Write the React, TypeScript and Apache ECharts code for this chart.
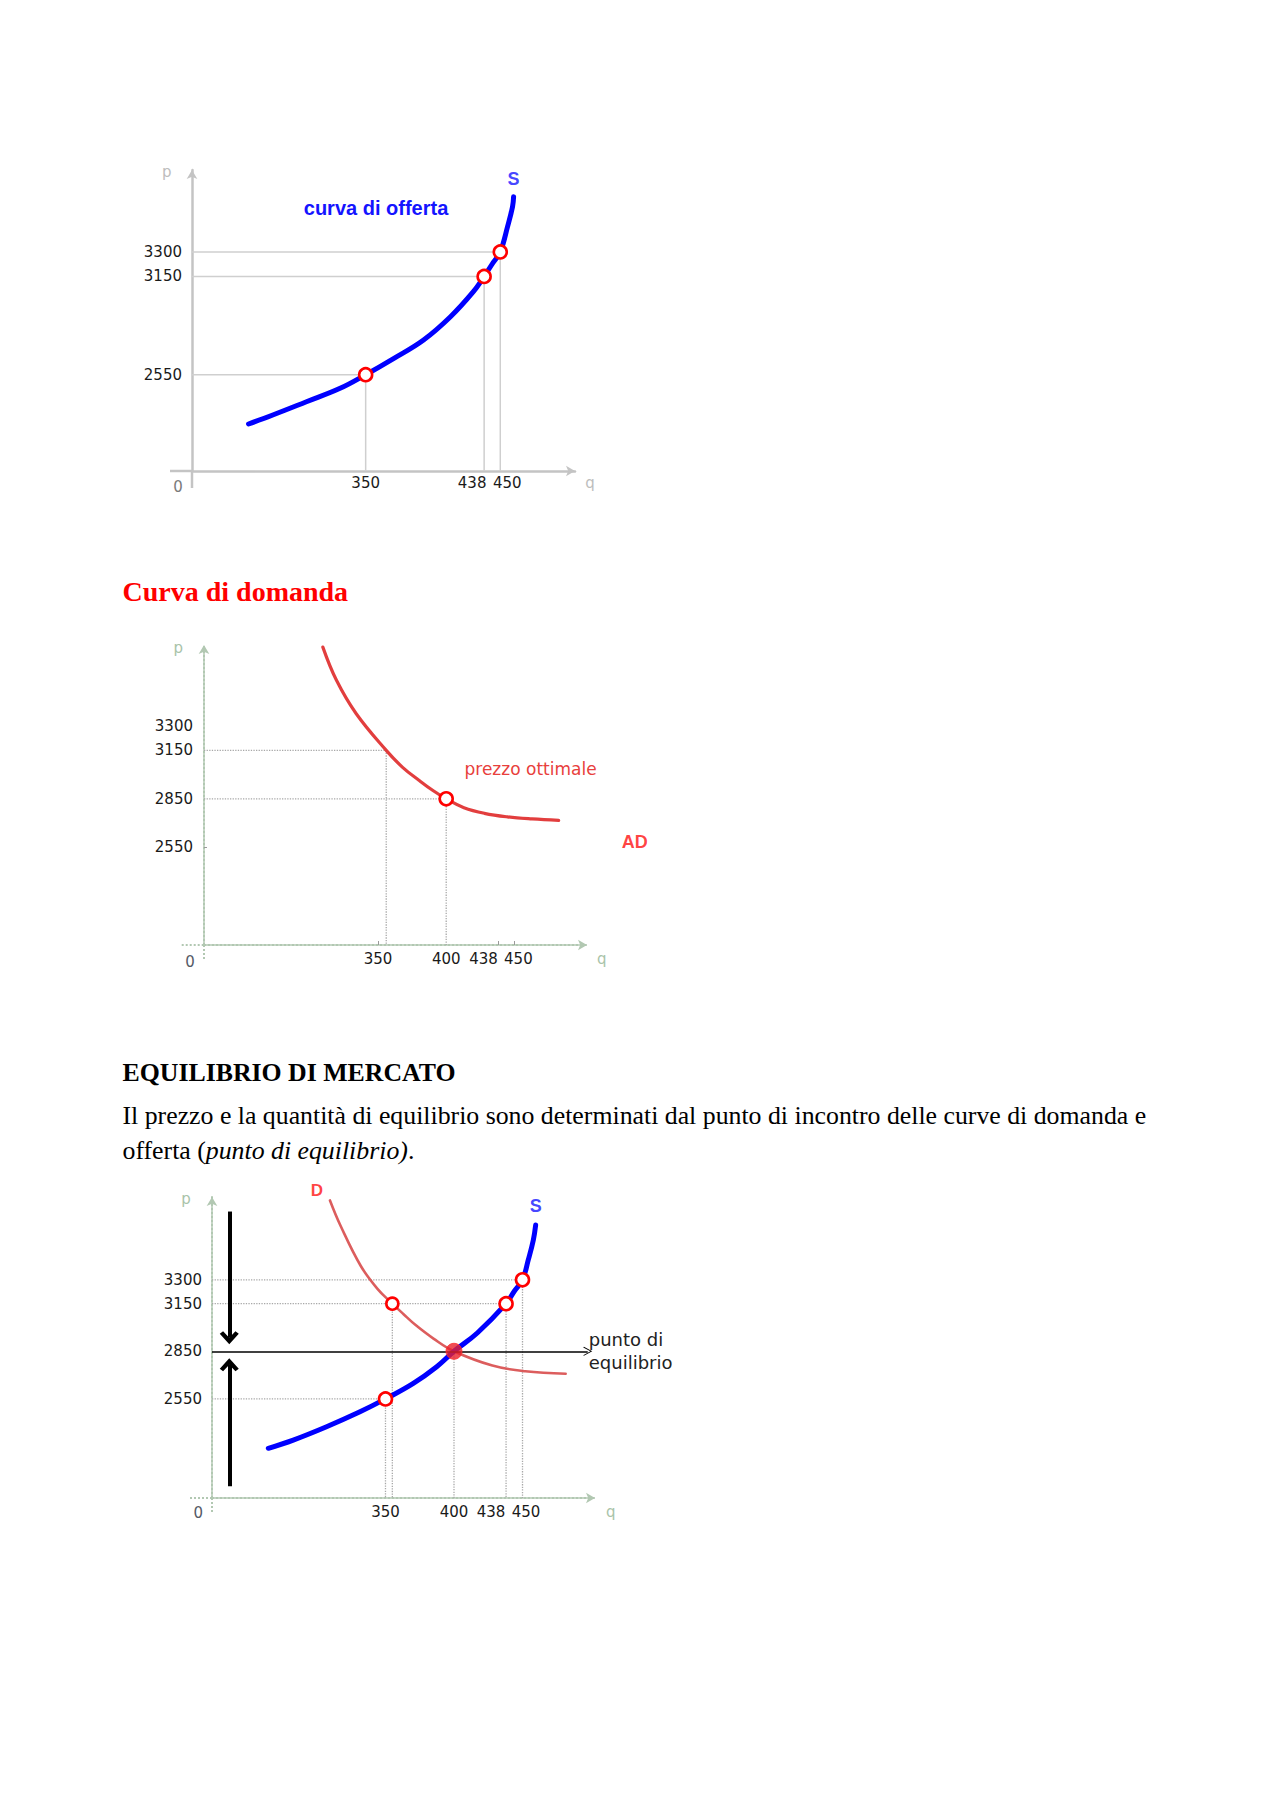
import React, { useEffect, useRef } from "react";
import * as echarts from "echarts";

// ---------------- DATA ----------------
// Grafico 1 – curva di offerta (q, p)
const offerta1Curve = [[263, 2249], [281, 2304], [306, 2385], [331, 2467], [350, 2550], [371, 2650], [393, 2762], [413, 2904], [430, 3057], [438, 3150], [444, 3226], [450, 3300], [455.4, 3454], [459.1, 3576], [459.9, 3637]];
const offerta1Points = [[350, 2550], [438, 3150], [450, 3300]];
const q1Ticks = [350, 438, 450];
const p1Ticks = [2550, 3150, 3300];

// Grafico 2 – curva di domanda
const domanda2Curve = [[309.5, 3790], [319.5, 3584], [334, 3377], [356, 3150], [368, 3045], [380, 2965], [390, 2903], [400, 2850], [413, 2795], [428, 2760], [445, 2738], [463, 2725], [482.5, 2716]];
const domanda2Guides = [[356, 3150], [400, 2850]];
const domanda2Optimum = [[400, 2850]];
const q2Ticks = [350, 400, 438, 450];
const q2SmallTicks = [350, 438, 450];
const p2Ticks = [2550, 2850, 3150, 3300];

// Grafico 3 – equilibrio di mercato
const offerta3Curve = [[264.5, 2239], [282.7, 2291], [307, 2375], [331.4, 2469], [350, 2550], [370.3, 2648], [387.4, 2753], [400, 2850], [417, 2965], [438, 3150], [444, 3228], [450, 3300], [454.2, 3425], [457.9, 3551], [459.6, 3645]];
const domanda3Curve = [[309.5, 3800], [317.3, 3639], [332, 3387], [344, 3245], [355, 3150], [363, 3085], [372, 3015], [385, 2930], [400, 2850], [428, 2760], [452, 2724], [481.5, 2708]];
const offerta3Points = [[350, 2550], [438, 3150], [450, 3300]];
const domanda3Points = [[355, 3150]];
const equilibrio = [[400, 2850]];
const q3Ticks = [350, 400, 438, 450];
const p3Ticks = [2550, 2850, 3150, 3300];
const eqLineEndQ = 497.6;
const frecciaGiu = [[236, 3730], [236, 2935]];
const frecciaSu = [[236, 2000], [236, 2765]];

// ---------------- LAYOUT / STYLE ----------------
const FONT_SANS = '"DejaVu Sans", Verdana, sans-serif';
const FONT_SERIF = '"Liberation Serif", "Times New Roman", serif';
const FONT_ARIAL = '"Liberation Sans", Arial, sans-serif';

const GRIDS = [
  { left: 192, top: 170, width: 383, height: 301 },
  { left: 204, top: 645, width: 383, height: 300 },
  { left: 212, top: 1197, width: 383, height: 301 },
];
const RANGES = [
  { xmin: 221, xmax: 505.5, ymin: 1962, ymax: 3800 },
  { xmin: 222.3, xmax: 503.3, ymin: 1944, ymax: 3803 },
  { xmin: 223.4, xmax: 502.9, ymin: 1926, ymax: 3821.5 },
];

const AXIS1 = { color: "#c4c4c4", width: 2.5, type: "solid" };
const AXIS23 = { color: "#b2c8b2", width: 2, type: "dotted" };
const GUIDE1 = { color: "#cfcfcf", width: 1.5, type: "solid" };
const GUIDE23 = { color: "#a8a8a8", width: 1.3, type: "dotted" };

const CHEVRON_THICK = "path://M10,0 L20,12 L16.5,15 L10,7.5 L3.5,15 L0,12 Z";
const CHEVRON_THIN = "path://M10,0 L20,12 L18.6,13 L10,2.6 L1.4,13 L0,12 Z";

function labelShift(shifts: Record<number, number>) {
  const rich: Record<string, any> = {};
  Object.keys(shifts).forEach((k) => {
    const s = shifts[Number(k)];
    rich["s" + k] = {
      padding: s < 0 ? [0, -2 * s, 0, 0] : [0, 0, 0, 2 * s],
      fontSize: 15,
      fontFamily: FONT_SANS,
      color: "#1a1a1a",
    };
  });
  return {
    formatter: (v: number) => (shifts[v] ? `{s${v}|${v}}` : `${v}`),
    rich,
  };
}

function xAxisFor(i: number, ticks: number[], shifts: Record<number, number>, axisStyle: any, margin: number, small?: number[]) {
  const r = RANGES[i];
  return {
    type: "value",
    gridIndex: i,
    min: r.xmin,
    max: r.xmax,
    axisLine: { show: true, onZero: false, symbol: ["none", "arrow"], symbolSize: [8, 9], lineStyle: axisStyle },
    axisTick: small
      ? { show: true, inside: true, length: 4, customValues: small, lineStyle: { color: "#9a9a9a", width: 1 } }
      : { show: false },
    splitLine: { show: false },
    axisLabel: {
      show: true,
      customValues: ticks,
      margin,
      fontSize: 15,
      fontFamily: FONT_SANS,
      color: "#1a1a1a",
      ...labelShift(shifts),
    },
  };
}

function yAxisFor(i: number, ticks: number[], axisStyle: any, margin: number, small?: number[]) {
  const r = RANGES[i];
  return {
    type: "value",
    gridIndex: i,
    min: r.ymin,
    max: r.ymax,
    axisLine: { show: true, onZero: false, symbol: ["none", "arrow"], symbolSize: [8, 9], lineStyle: axisStyle },
    axisTick: small
      ? { show: true, inside: true, length: 3, customValues: small, lineStyle: { color: "#9a9a9a", width: 1 } }
      : { show: false },
    splitLine: { show: false },
    axisLabel: {
      show: true,
      customValues: ticks,
      margin,
      fontSize: 15,
      fontFamily: FONT_SANS,
      color: "#1a1a1a",
      formatter: (v: number) => String(v),
    },
  };
}

function guide(i: number, data: number[][], style: any) {
  return {
    type: "line",
    xAxisIndex: i,
    yAxisIndex: i,
    data,
    symbol: "none",
    silent: true,
    z: 1,
    lineStyle: style,
  };
}

function curve(i: number, name: string, data: number[][], color: string, width: number, opacity = 1) {
  return {
    type: "line",
    name,
    xAxisIndex: i,
    yAxisIndex: i,
    data,
    symbol: "none",
    smooth: 0.4,
    silent: true,
    z: 3,
    lineStyle: { color, width, opacity, cap: "round" },
  };
}

function hollow(i: number, data: number[][], size = 13, label?: any) {
  return {
    type: "scatter",
    xAxisIndex: i,
    yAxisIndex: i,
    data,
    symbol: "circle",
    symbolSize: size,
    silent: true,
    z: 6,
    itemStyle: { color: "#ffffff", borderColor: "#ff0000", borderWidth: 2.6, opacity: 1 },
    label: label || { show: false },
  };
}

function textAt(i: number, point: number[], text: string, label: any) {
  return {
    type: "scatter",
    xAxisIndex: i,
    yAxisIndex: i,
    data: [point],
    symbolSize: 0,
    silent: true,
    z: 7,
    label: { show: true, formatter: text, ...label },
  };
}

function gText(x: number, y: number, text: string, font: string, fill: string, align = "left") {
  return { type: "text", x, y, silent: true, style: { text, font, fill, align, verticalAlign: "middle" } };
}

function gLine(x1: number, y1: number, x2: number, y2: number, st: any) {
  return {
    type: "line",
    silent: true,
    shape: { x1, y1, x2, y2 },
    style: { stroke: st.color, lineWidth: st.width, lineDash: st.type === "dotted" ? [2, 2] : null },
  };
}

function buildOption() {
  const r1 = RANGES[0];
  const r2 = RANGES[1];
  const r3 = RANGES[2];
  const g1 = GRIDS[0];
  const g2 = GRIDS[1];
  const g3 = GRIDS[2];

  const series: any[] = [];

  // ---- Grafico 1
  offerta1Points.forEach(([q, p]) => series.push(guide(0, [[r1.xmin, p], [q, p], [q, r1.ymin]], GUIDE1)));
  series.push(curve(0, "S", offerta1Curve, "#0000ff", 5));
  series.push(hollow(0, offerta1Points));
  series.push(
    textAt(0, offerta1Curve[offerta1Curve.length - 1], "S", {
      position: "top",
      distance: 9,
      color: "#1414ff",
      fontSize: 18,
      fontWeight: "bold",
      fontFamily: FONT_ARIAL,
    })
  );

  // ---- Grafico 2
  domanda2Guides.forEach(([q, p]) => series.push(guide(1, [[r2.xmin, p], [q, p], [q, r2.ymin]], GUIDE23)));
  series.push(curve(1, "AD", domanda2Curve, "#e03434", 3.2, 0.95));
  series.push(
    hollow(1, domanda2Optimum, 13, {
      show: true,
      formatter: "prezzo ottimale",
      position: "right",
      distance: 10.5,
      offset: [0, -30],
      color: "#e8403c",
      fontSize: 17,
      fontFamily: FONT_SANS,
    })
  );
  series.push(
    textAt(1, domanda2Curve[domanda2Curve.length - 1], "AD", {
      position: "right",
      distance: 63,
      offset: [0, 22],
      color: "#ff1010",
      fontSize: 18,
      fontWeight: "bold",
      fontFamily: FONT_ARIAL,
    })
  );

  // ---- Grafico 3
  offerta3Points.forEach(([q, p]) => series.push(guide(2, [[r3.xmin, p], [q, p], [q, r3.ymin]], GUIDE23)));
  domanda3Points.forEach(([q, p]) => series.push(guide(2, [[q, p], [q, r3.ymin]], GUIDE23)));
  equilibrio.forEach(([q, p]) => series.push(guide(2, [[q, p], [q, r3.ymin]], GUIDE23)));

  // linea di equilibrio con freccia
  series.push({
    type: "line",
    xAxisIndex: 2,
    yAxisIndex: 2,
    data: [[r3.xmin, equilibrio[0][1]], [eqLineEndQ, equilibrio[0][1]]],
    symbol: "none",
    silent: true,
    z: 4,
    lineStyle: { opacity: 0 },
    markLine: {
      silent: true,
      animation: false,
      symbol: ["none", CHEVRON_THIN],
      symbolSize: 9,
      lineStyle: { color: "#000000", width: 1.6, type: "solid" },
      label: {
        show: true,
        position: "end",
        distance: 1,
        formatter: "punto di\nequilibrio",
        color: "#222222",
        fontSize: 18,
        lineHeight: 23,
        fontFamily: FONT_SANS,
      },
      data: [
        [
          { coord: [r3.xmin, equilibrio[0][1]], symbol: "none" },
          { coord: [eqLineEndQ, equilibrio[0][1]], symbol: CHEVRON_THIN, symbolSize: [9, 9] },
        ],
      ],
    },
  });

  // frecce verticali
  series.push({
    type: "line",
    xAxisIndex: 2,
    yAxisIndex: 2,
    data: frecciaGiu,
    symbol: "none",
    silent: true,
    z: 4,
    lineStyle: { opacity: 0 },
    markLine: {
      silent: true,
      animation: false,
      symbol: ["none", CHEVRON_THICK],
      symbolSize: 18,
      lineStyle: { color: "#000000", width: 4, type: "solid" },
      label: { show: false },
      data: [
        [
          { coord: frecciaGiu[0], symbol: "none" },
          { coord: frecciaGiu[1], symbol: CHEVRON_THICK, symbolSize: [19, 13] },
        ],
        [
          { coord: frecciaSu[0], symbol: "none" },
          { coord: frecciaSu[1], symbol: CHEVRON_THICK, symbolSize: [19, 13] },
        ],
      ],
    },
  });

  series.push(curve(2, "D", domanda3Curve, "#d84b4b", 2.6, 0.9));
  series.push(curve(2, "S", offerta3Curve, "#0000ff", 5));
  series.push(hollow(2, offerta3Points));
  series.push(hollow(2, domanda3Points, 12));
  series.push({
    type: "scatter",
    xAxisIndex: 2,
    yAxisIndex: 2,
    data: equilibrio,
    symbol: "circle",
    symbolSize: 16,
    silent: true,
    z: 8,
    itemStyle: { color: "#e8202a", borderColor: "#ff3030", borderWidth: 1 },
  });
  series.push(
    textAt(2, domanda3Curve[0], "D", {
      position: "top",
      distance: 1,
      offset: [-13, 0],
      color: "#ff1010",
      fontSize: 17,
      fontWeight: "bold",
      fontFamily: FONT_ARIAL,
    })
  );
  series.push(
    textAt(2, offerta3Curve[offerta3Curve.length - 1], "S", {
      position: "top",
      distance: 10,
      color: "#1414ff",
      fontSize: 18,
      fontWeight: "bold",
      fontFamily: FONT_ARIAL,
    })
  );

  const originY = (g: any) => g.top + g.height;

  const graphic: any[] = [
    // stubs of the axes past the origin
    gLine(170, originY(g1), g1.left, originY(g1), AXIS1),
    gLine(g1.left, originY(g1), g1.left, 488, AXIS1),
    gLine(181.7, originY(g2), g2.left, originY(g2), AXIS23),
    gLine(g2.left, originY(g2), g2.left, 960, AXIS23),
    gLine(190, originY(g3), g3.left, originY(g3), AXIS23),
    gLine(g3.left, originY(g3), g3.left, 1513, AXIS23),

    // axis names and origin labels
    gText(166.7, 172, "p", `15px ${FONT_SANS}`, "#bdbdbd", "center"),
    gText(590, 483, "q", `15px ${FONT_SANS}`, "#bdbdbd", "center"),
    gText(178, 487, "0", `15px ${FONT_SANS}`, "#7a7a7a", "center"),
    gText(178.3, 647.5, "p", `15px ${FONT_SANS}`, "#a9c3a9", "center"),
    gText(601.7, 958.5, "q", `15px ${FONT_SANS}`, "#a9c3a9", "center"),
    gText(190, 961.5, "0", `15px ${FONT_SANS}`, "#555a66", "center"),
    gText(186, 1198.5, "p", `15px ${FONT_SANS}`, "#a9c3a9", "center"),
    gText(610.7, 1511.5, "q", `15px ${FONT_SANS}`, "#a9c3a9", "center"),
    gText(198.3, 1513, "0", `15px ${FONT_SANS}`, "#555a66", "center"),

    // chart 1 caption
    gText(376, 207.5, "curva di offerta", `bold 20px ${FONT_ARIAL}`, "#1414ff", "center"),

    // page texts
    gText(122.5, 591.5, "Curva di domanda", `bold 28px ${FONT_SERIF}`, "#ff0000"),
    gText(122.5, 1072.6, "EQUILIBRIO DI MERCATO", `bold 25.8px ${FONT_SERIF}`, "#000000"),
    gText(
      122.5,
      1115.8,
      "Il prezzo e la quantità di equilibrio sono determinati dal punto di incontro delle curve di domanda e",
      `25.8px ${FONT_SERIF}`,
      "#000000"
    ),
    {
      type: "text",
      x: 122.5,
      y: 1150.5,
      silent: true,
      style: {
        text: "{n|offerta (}{i|punto di equilibrio)}{n|.}",
        align: "left",
        verticalAlign: "middle",
        rich: {
          n: { fontSize: 25.8, fontFamily: FONT_SERIF, fill: "#000000" },
          i: { fontSize: 25.8, fontFamily: FONT_SERIF, fontStyle: "italic", fill: "#000000" },
        },
      },
    },
  ];

  return {
    animation: false,
    backgroundColor: "#ffffff",
    grid: GRIDS.map((g) => ({ ...g, containLabel: false })),
    xAxis: [
      xAxisFor(0, q1Ticks, { 438: -12, 450: 7 }, AXIS1, 4),
      xAxisFor(1, q2Ticks, { 438: -14.5, 450: 4 }, AXIS23, 6, q2SmallTicks),
      xAxisFor(2, q3Ticks, { 438: -15, 450: 3.5 }, AXIS23, 6),
    ],
    yAxis: [
      yAxisFor(0, p1Ticks, AXIS1, 10),
      yAxisFor(1, p2Ticks, AXIS23, 11, [2550]),
      yAxisFor(2, p3Ticks, AXIS23, 10),
    ],
    series,
    graphic,
  };
}

export default function App() {
  const ref = useRef<HTMLDivElement>(null);
  useEffect(() => {
    if (!ref.current) return;
    const chart = echarts.init(ref.current, null, { renderer: "svg" });
    chart.setOption(buildOption() as any);
    return () => chart.dispose();
  }, []);
  return (
    <div
      ref={ref}
      style={{ position: "absolute", left: 0, top: 0, width: 1280, height: 1811, background: "#ffffff" }}
    />
  );
}
